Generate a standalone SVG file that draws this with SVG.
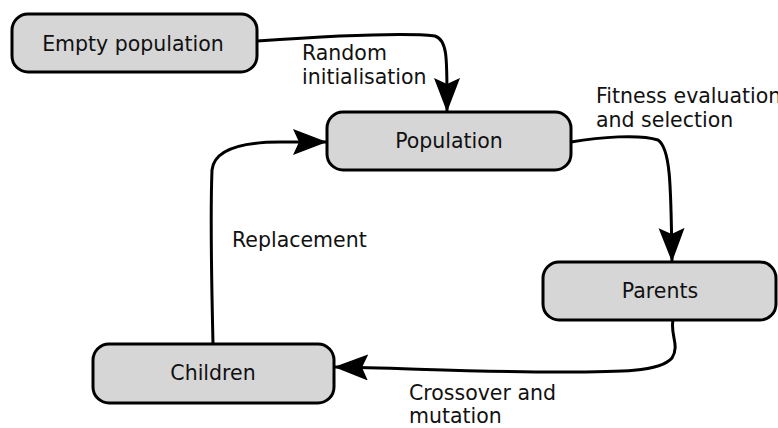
<svg xmlns="http://www.w3.org/2000/svg" width="778" height="428" viewBox="0 0 778 428">
<style>
.box{fill:#d6d6d6;stroke:#000;stroke-width:3}
.t{font-family:"DejaVu Sans",sans-serif;font-size:20.5px;fill:#111}
.c{text-anchor:middle}
.edge{fill:none;stroke:#000;stroke-width:3}
</style>
<defs>
<marker id="ah" markerUnits="userSpaceOnUse" markerWidth="36" markerHeight="28" refX="34" refY="13" orient="auto">
<path d="M0,0 L34,13 L0,26 L6,13 Z" fill="#000"/>
</marker>
</defs>
<rect width="778" height="428" fill="#fff"/>
<g id="connectors">
<path class="edge" d="M257,41 C330,36 400,32 435,36 C448,40 447,60 447,112" marker-end="url(#ah)"/>
<path class="edge" d="M571,142 C600,137 640,134 658,140 C670,148 671,180 672,262" marker-end="url(#ah)"/>
<path class="edge" d="M673,320 C670,335 680,345 672,358 C660,372 620,372 560,372 C480,372 400,368 334,367" marker-end="url(#ah)"/>
<path class="edge" d="M213,344 C212,300 210,220 212,170 C214,150 240,142 280,142 L327,142" marker-end="url(#ah)"/>
</g>
<g id="empty">
<rect class="box" x="12" y="14" width="245" height="58" rx="16"/>
<text class="t c" x="133" y="51">Empty population</text>
</g>
<g id="population">
<rect class="box" x="327" y="112" width="244" height="58" rx="16"/>
<text class="t c" x="449" y="148">Population</text>
</g>
<g id="parents">
<rect class="box" x="543" y="262" width="233" height="58" rx="16"/>
<text class="t c" x="660" y="298">Parents</text>
</g>
<g id="children">
<rect class="box" x="93" y="344" width="241" height="59" rx="16"/>
<text class="t c" x="213" y="380">Children</text>
</g>
<g id="labels">
<text class="t" x="302" y="60">Random</text>
<text class="t" x="302" y="84">initialisation</text>
<text class="t" x="596" y="103">Fitness evaluation</text>
<text class="t" x="596" y="127">and selection</text>
<text class="t" x="232" y="247">Replacement</text>
<text class="t" x="409" y="400">Crossover and</text>
<text class="t" x="409" y="423">mutation</text>
</g>
</svg>
